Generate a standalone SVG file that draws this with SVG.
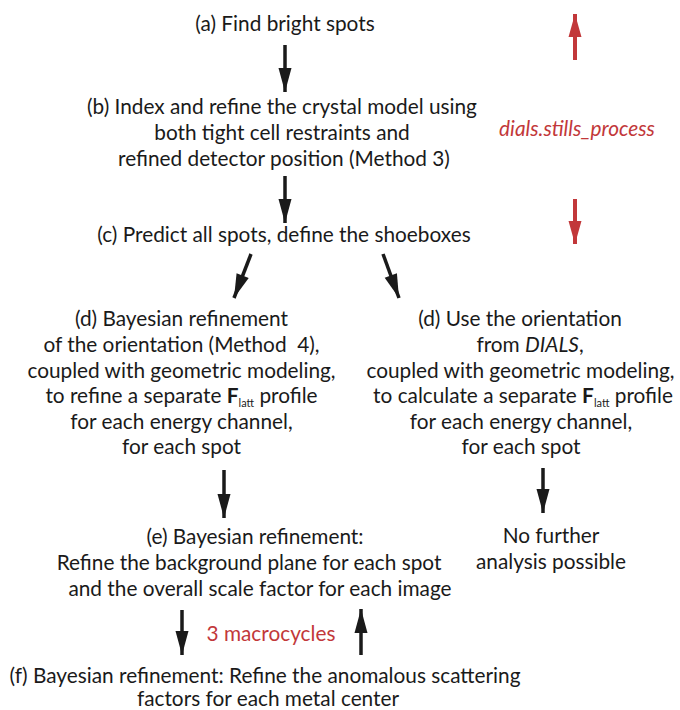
<svg xmlns="http://www.w3.org/2000/svg" width="680" height="710" viewBox="0 0 680 710">
  <style>
    text { font-family: Lato, "Open Sans", "Liberation Sans", sans-serif; font-size: 20.8px; fill: #1a1a1a; text-anchor: middle; }
    .red { fill: #c2383a; }
    .it { font-style: italic; }
    .b { font-weight: bold; }
    .sub { font-size: 11px; }
    .arrow { stroke: #1a1a1a; stroke-width: 3.5; fill: none; marker-end: url(#headBlack); }
    .arrowRed { stroke: #c2383a; stroke-width: 4; fill: none; marker-end: url(#headRed); }
  </style>
  <defs>
    <marker id="headBlack" markerUnits="userSpaceOnUse" markerWidth="24" markerHeight="13" viewBox="0 0 24 13" refX="24" refY="6.5" orient="auto" overflow="visible">
      <path d="M0,0 L24,6.5 L0,13 z" fill="#1a1a1a"/>
    </marker>
    <marker id="headRed" markerUnits="userSpaceOnUse" markerWidth="23" markerHeight="13" viewBox="0 0 23 13" refX="23" refY="6.5" orient="auto" overflow="visible">
      <path d="M0,0 L23,6.5 L0,13 z" fill="#c2383a"/>
    </marker>
  </defs>

  <g id="step-a">
    <text x="285" y="31">(a) Find bright spots</text>
  </g>

  <g id="step-b">
    <text x="282" y="114">(b) Index and refine the crystal model using</text>
    <text x="282" y="140">both tight cell restraints and</text>
    <text x="284" y="166">refined detector position (Method 3)</text>
  </g>

  <g id="stills-process">
    <text class="red it" x="577" y="136">dials.stills_process</text>
  </g>

  <g id="step-c">
    <text x="284" y="242">(c) Predict all spots, define the shoeboxes</text>
  </g>

  <g id="step-d-left">
    <text x="181.5" y="326">(d) Bayesian refinement</text>
    <text x="181.5" y="352">of the orientation (Method&#160; 4),</text>
    <text x="181.5" y="378">coupled with geometric modeling,</text>
    <text x="181.5" y="403">to refine a separate <tspan class="b">F</tspan><tspan class="sub" dy="4">latt</tspan><tspan dy="-4"> profile</tspan></text>
    <text x="181.5" y="429">for each energy channel,</text>
    <text x="181.5" y="454">for each spot</text>
  </g>

  <g id="step-d-right">
    <text x="520" y="326">(d) Use the orientation</text>
    <text x="530" y="352">from <tspan class="it">DIALS</tspan>,</text>
    <text x="520.5" y="378">coupled with geometric modeling,</text>
    <text x="523" y="403">to calculate a separate <tspan class="b">F</tspan><tspan class="sub" dy="4">latt</tspan><tspan dy="-4"> profile</tspan></text>
    <text x="521" y="429">for each energy channel,</text>
    <text x="521" y="454">for each spot</text>
  </g>

  <g id="step-e">
    <text x="255" y="544">(e) Bayesian refinement:</text>
    <text x="249" y="570">Refine the background plane for each spot</text>
    <text x="260" y="596">and the overall scale factor for each image</text>
  </g>

  <g id="no-further">
    <text x="551" y="543">No further</text>
    <text x="551" y="569">analysis possible</text>
  </g>

  <g id="macrocycles">
    <text class="red" x="271" y="641">3 macrocycles</text>
  </g>

  <g id="step-f">
    <text x="265" y="683">(f) Bayesian refinement: Refine the anomalous scattering</text>
    <text x="268" y="706">factors for each metal center</text>
  </g>

  <g id="connectors">
    <line class="arrow" x1="285" y1="45" x2="285" y2="92"/>
    <line class="arrow" x1="285" y1="176" x2="285" y2="223"/>
    <line class="arrow" x1="251" y1="254" x2="234" y2="298"/>
    <line class="arrow" x1="383" y1="254" x2="399" y2="298"/>
    <line class="arrow" x1="224" y1="470" x2="224" y2="518"/>
    <line class="arrow" x1="543" y1="468" x2="543" y2="513"/>
    <line class="arrow" x1="182" y1="610" x2="182" y2="655"/>
    <line class="arrow" x1="361" y1="655" x2="361" y2="609"/>
    <line class="arrowRed" x1="575" y1="60" x2="575" y2="14"/>
    <line class="arrowRed" x1="575" y1="199" x2="575" y2="244"/>
  </g>
</svg>
